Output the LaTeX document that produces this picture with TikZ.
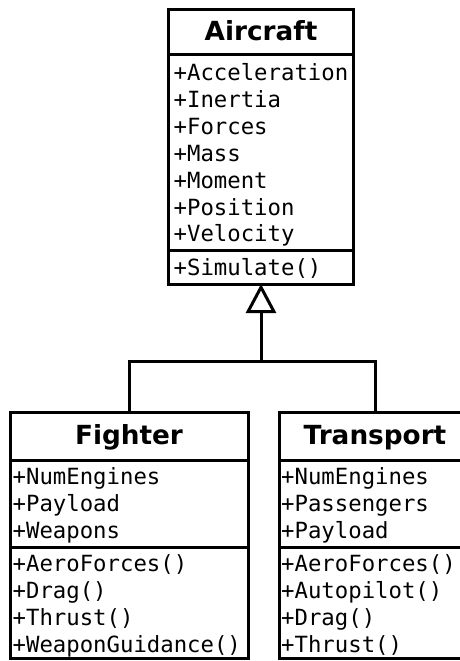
\documentclass[tikz,border=0pt]{standalone}
\usepackage{fontspec}
\setmonofont{DejaVu Sans Mono}
\newfontfamily\classfont{DejaVu Sans}
\usetikzlibrary{arrows.meta}

\tikzset{
  classbox/.style={draw, line width=3pt, rectangle, inner sep=0pt, outer sep=0pt},
  divider/.style={line width=3pt},
  classname/.style={inner sep=0pt, anchor=base, font=\classfont\bfseries\fontsize{26.3}{30}\selectfont},
  member/.style={inner sep=0pt, anchor=base west, font=\ttfamily\fontsize{22.3}{27}\selectfont},
  inherit/.style={line width=3pt, -{Triangle[open, length=29pt, width=30pt, line width=3pt]}},
  link/.style={line width=3pt},
}

\begin{document}
\begin{tikzpicture}[x=1pt, y=-1pt]
\useasboundingbox (0,0) rectangle (459,661);

% ---- class boxes ----
\node[classbox, minimum width=185pt, minimum height=274pt] (aircraft) at (261,147) {};
\node[classbox, minimum width=238pt, minimum height=246pt] (fighter) at (129,535) {};
\node[classbox, minimum width=192pt, minimum height=246pt] (transport) at (375,535) {};

% ---- compartment dividers ----
\draw[divider] (aircraft.west |- 0,55) -- (aircraft.east |- 0,55);
\draw[divider] (aircraft.west |- 0,250) -- (aircraft.east |- 0,250);
\draw[divider] (fighter.west |- 0,460) -- (fighter.east |- 0,460);
\draw[divider] (fighter.west |- 0,547) -- (fighter.east |- 0,547);
\draw[divider] (transport.west |- 0,460) -- (transport.east |- 0,460);
\draw[divider] (transport.west |- 0,547) -- (transport.east |- 0,547);

% ---- class names ----
\node[classname] (aircraft-name) at (261,41) {Aircraft};
\node[classname] (fighter-name) at (129,444) {Fighter};
\node[classname] (transport-name) at (375,444) {Transport};

% ---- Aircraft members ----
\foreach \t [count=\i] in {+Acceleration,+Inertia,+Forces,+Mass,+Moment,+Position,+Velocity}
  \node[member] (aircraft-attr-\i) at (173.5,{81+(\i-1)*26.8}) {\t};
\node[member] (aircraft-op-1) at (173.5,275) {+Simulate()};

% ---- Fighter members ----
\foreach \t [count=\i] in {+NumEngines,+Payload,+Weapons}
  \node[member] (fighter-attr-\i) at (12.5,{484+(\i-1)*27}) {\t};
\foreach \t [count=\i] in {+AeroForces(),+Drag(),+Thrust(),+WeaponGuidance()}
  \node[member] (fighter-op-\i) at (12.5,{571+(\i-1)*27.2}) {\t};

% ---- Transport members ----
\foreach \t [count=\i] in {+NumEngines,+Passengers,+Payload}
  \node[member] (transport-attr-\i) at (281,{484+(\i-1)*27}) {\t};
\foreach \t [count=\i] in {+AeroForces(),+Autopilot(),+Drag(),+Thrust()}
  \node[member] (transport-op-\i) at (281,{571+(\i-1)*27.2}) {\t};

% ---- generalisation ----
\coordinate (hub) at (aircraft.south |- 0,361);
\draw[link] (fighter.north) |- (hub) -| (transport.north);
\draw[inherit] (hub) -- (aircraft.south);

\end{tikzpicture}
\end{document}
